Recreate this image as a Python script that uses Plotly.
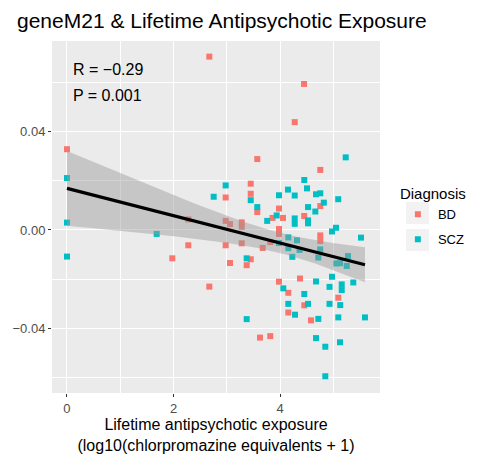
import numpy as np
import plotly.graph_objects as go

# ---- data ----
bd_x = [0.0, 1.976, 2.276, 2.276, 2.670, 2.670, 2.977, 2.977, 2.977, 3.058, 3.058,
        3.278, 3.278, 3.278, 3.371, 3.447, 3.447, 3.447, 3.570, 3.570, 3.621, 3.672,
        3.814, 3.814, 3.856, 3.977, 3.977, 3.977, 3.977, 4.053, 4.152, 4.152, 4.272,
        4.371, 4.447, 4.450, 4.452, 4.578, 4.752, 4.752, 4.752, 4.752, 5.090]
bd_y = [0.0328, -0.0115, -0.0062, 0.0043, 0.0704, -0.0230, 0.0132, 0.0037, -0.0062, 0.0024, -0.0134,
        0.0031, 0.0013, -0.0054, -0.0143, 0.0188, 0.0147, -0.0119, 0.0288, 0.0073, -0.0437, -0.0073,
        -0.0049, -0.0431, 0.0049, 0.0087, 0.0004, -0.0016, -0.0210, 0.0049, -0.0255, -0.0335, 0.0438,
        -0.0197, 0.0593, 0.0057, -0.0306, -0.0367, 0.0244, 0.0097, -0.0022, -0.0045, -0.0275]

scz_x = [0.0, 0.0, 0.0, 1.683, 2.752, 2.977, 3.371, 3.371, 3.447, 3.570, 3.756, 3.934,
         3.977, 3.977, 4.058, 4.146, 4.152, 4.152, 4.152, 4.227, 4.272, 4.272, 4.272, 4.278,
         4.315, 4.362, 4.452, 4.452, 4.503, 4.522, 4.522, 4.522, 4.522, 4.659, 4.672, 4.672,
         4.672, 4.715, 4.715, 4.752, 4.750, 4.818, 4.846, 4.846, 4.925, 4.925, 4.972, 4.972,
         5.047, 5.053, 5.088, 5.090, 5.122, 5.126, 5.122, 5.154, 5.154, 5.229, 5.248, 5.272,
         5.371, 5.516, 5.590]
scz_y = [0.0211, 0.0030, -0.0108, -0.0016, 0.0135, 0.0181, -0.0115, -0.0362, 0.0121, 0.0093, 0.0037, 0.0059,
         0.0141, -0.0053, -0.0237, 0.0164, -0.0030, -0.0074, -0.0300, -0.0109, 0.0140, 0.0047, 0.0025, -0.0344,
         -0.0042, -0.0081, 0.0203, -0.0260, 0.0169, 0.0093, 0.0039, 0.0027, -0.0300, 0.0075, 0.0145, -0.0209,
         -0.0439, -0.0112, -0.0361, 0.0149, -0.0079, 0.0111, -0.0474, -0.0594, -0.0231, -0.0300, -0.0006, -0.0190,
         0.0009, -0.0136, 0.0125, -0.0355, -0.0135, -0.0305, -0.0456, -0.0221, -0.0244, 0.0295, -0.0146, -0.0106,
         -0.0213, -0.0031, -0.0355]

groups = ["BD", "SCZ"]
colors = ["#F8766D", "#00BFC4"]
x_ticks = [0, 2, 4]
y_ticks = [-0.04, 0.00, 0.04]
y_tick_text = ["\u22120.04", "0.00", "0.04"]
stats_text = ["R = \u22120.29", "P = 0.001"]

# ---- linear fit with 95% confidence band (as geom_smooth(method='lm')) ----
xa = np.array(bd_x + scz_x)
ya = np.array(bd_y + scz_y)
n = len(xa)
slope, intercept = np.polyfit(xa, ya, 1)
resid = ya - (intercept + slope * xa)
s = np.sqrt(np.sum(resid ** 2) / (n - 2))
xbar = xa.mean()
sxx = np.sum((xa - xbar) ** 2)
xf = np.linspace(xa.min(), xa.max(), 80)
yf = intercept + slope * xf
se = s * np.sqrt(1.0 / n + (xf - xbar) ** 2 / sxx)
tcrit = 1.98
upper = yf + tcrit * se
lower = yf - tcrit * se

FONT = "Liberation Sans, Arial, Helvetica, sans-serif"

fig = go.Figure()
for name, xs, ys, col in [(groups[0], bd_x, bd_y, colors[0]), (groups[1], scz_x, scz_y, colors[1])]:
    fig.add_trace(go.Scatter(x=xs, y=ys, mode="markers", name=name, legendgroup=name,
                             marker=dict(symbol="square", size=6, color=col, line=dict(width=0))))

fig.add_trace(go.Scatter(x=np.concatenate([xf, xf[::-1]]), y=np.concatenate([upper, lower[::-1]]),
                         fill="toself", fillcolor="rgba(153,153,153,0.45)", line=dict(width=0),
                         mode="lines", showlegend=False, hoverinfo="skip"))
fig.add_trace(go.Scatter(x=xf, y=yf, mode="lines", line=dict(color="black", width=3.2),
                         showlegend=False))

fig.add_annotation(x=0.07, y=0.0650, xref="x", yref="y", text=stats_text[0], showarrow=False,
                   xanchor="left", yanchor="middle", font=dict(size=16, color="black", family=FONT))
fig.add_annotation(x=0.07, y=0.0548, xref="x", yref="y", text=stats_text[1], showarrow=False,
                   xanchor="left", yanchor="middle", font=dict(size=16, color="black", family=FONT))

# y-axis title, mostly cut off at the left edge as in the reference
fig.add_annotation(x=0, y=0.5, xref="paper", yref="paper", text="geneM21 eigengene", showarrow=False,
                   textangle=-90, xanchor="right", yanchor="middle", xshift=-56,
                   font=dict(size=15, color="black", family=FONT))

# light legend key backgrounds (ggplot legend.key)
for y0, y1 in [(0.480, 0.5426), (0.4034, 0.4659)]:
    fig.add_shape(type="rect", xref="paper", yref="paper", x0=1.0793, x1=1.1494, y0=y0, y1=y1,
                  fillcolor="#F2F2F2", line=dict(width=0), layer="below")

fig.update_layout(
    width=493, height=454,
    margin=dict(l=52, r=113, t=41, b=61, autoexpand=False),
    paper_bgcolor="white", plot_bgcolor="#EBEBEB",
    font=dict(family=FONT, color="black"),
    title=dict(text="geneM21 & Lifetime Antipsychotic Exposure", xref="container", yref="container",
               x=17 / 493, xanchor="left", y=1 - 21 / 454, yanchor="middle",
               font=dict(size=21, color="black", family=FONT)),
    legend=dict(title=dict(text="Diagnosis", font=dict(size=15)), x=1.0545, xanchor="left",
                y=0.6055, yanchor="top", font=dict(size=13), bgcolor="rgba(0,0,0,0)",
                traceorder="grouped", tracegroupgap=5),
    showlegend=True,
)
fig.update_xaxes(range=[-0.281, 5.872], tickvals=x_ticks, ticks="outside", ticklen=3, tickcolor="#333333",
                 tickwidth=1.1, tickfont=dict(size=13, color="#4D4D4D"), automargin=False,
                 showgrid=True, gridcolor="white", gridwidth=1.1, zeroline=False, showline=False,
                 minor=dict(dtick=1, tick0=1, showgrid=True, gridcolor="white", gridwidth=0.5, ticks=""),
                 title=dict(text="Lifetime antipsychotic exposure<br>(log10(chlorpromazine equivalents + 1)",
                            font=dict(size=16, color="black"), standoff=6))
fig.update_yaxes(range=[-0.0662, 0.07675], tickvals=y_ticks, ticktext=y_tick_text, ticks="outside", ticklen=3,
                 tickcolor="#333333", tickwidth=1.1, tickfont=dict(size=13, color="#4D4D4D"), automargin=False,
                 showgrid=True, gridcolor="white", gridwidth=1.1, zeroline=False, showline=False,
                 minor=dict(tickvals=[-0.06, -0.02, 0.02, 0.06], showgrid=True, gridcolor="white",
                            gridwidth=0.5, ticks=""))

fig.write_html("out.html")
